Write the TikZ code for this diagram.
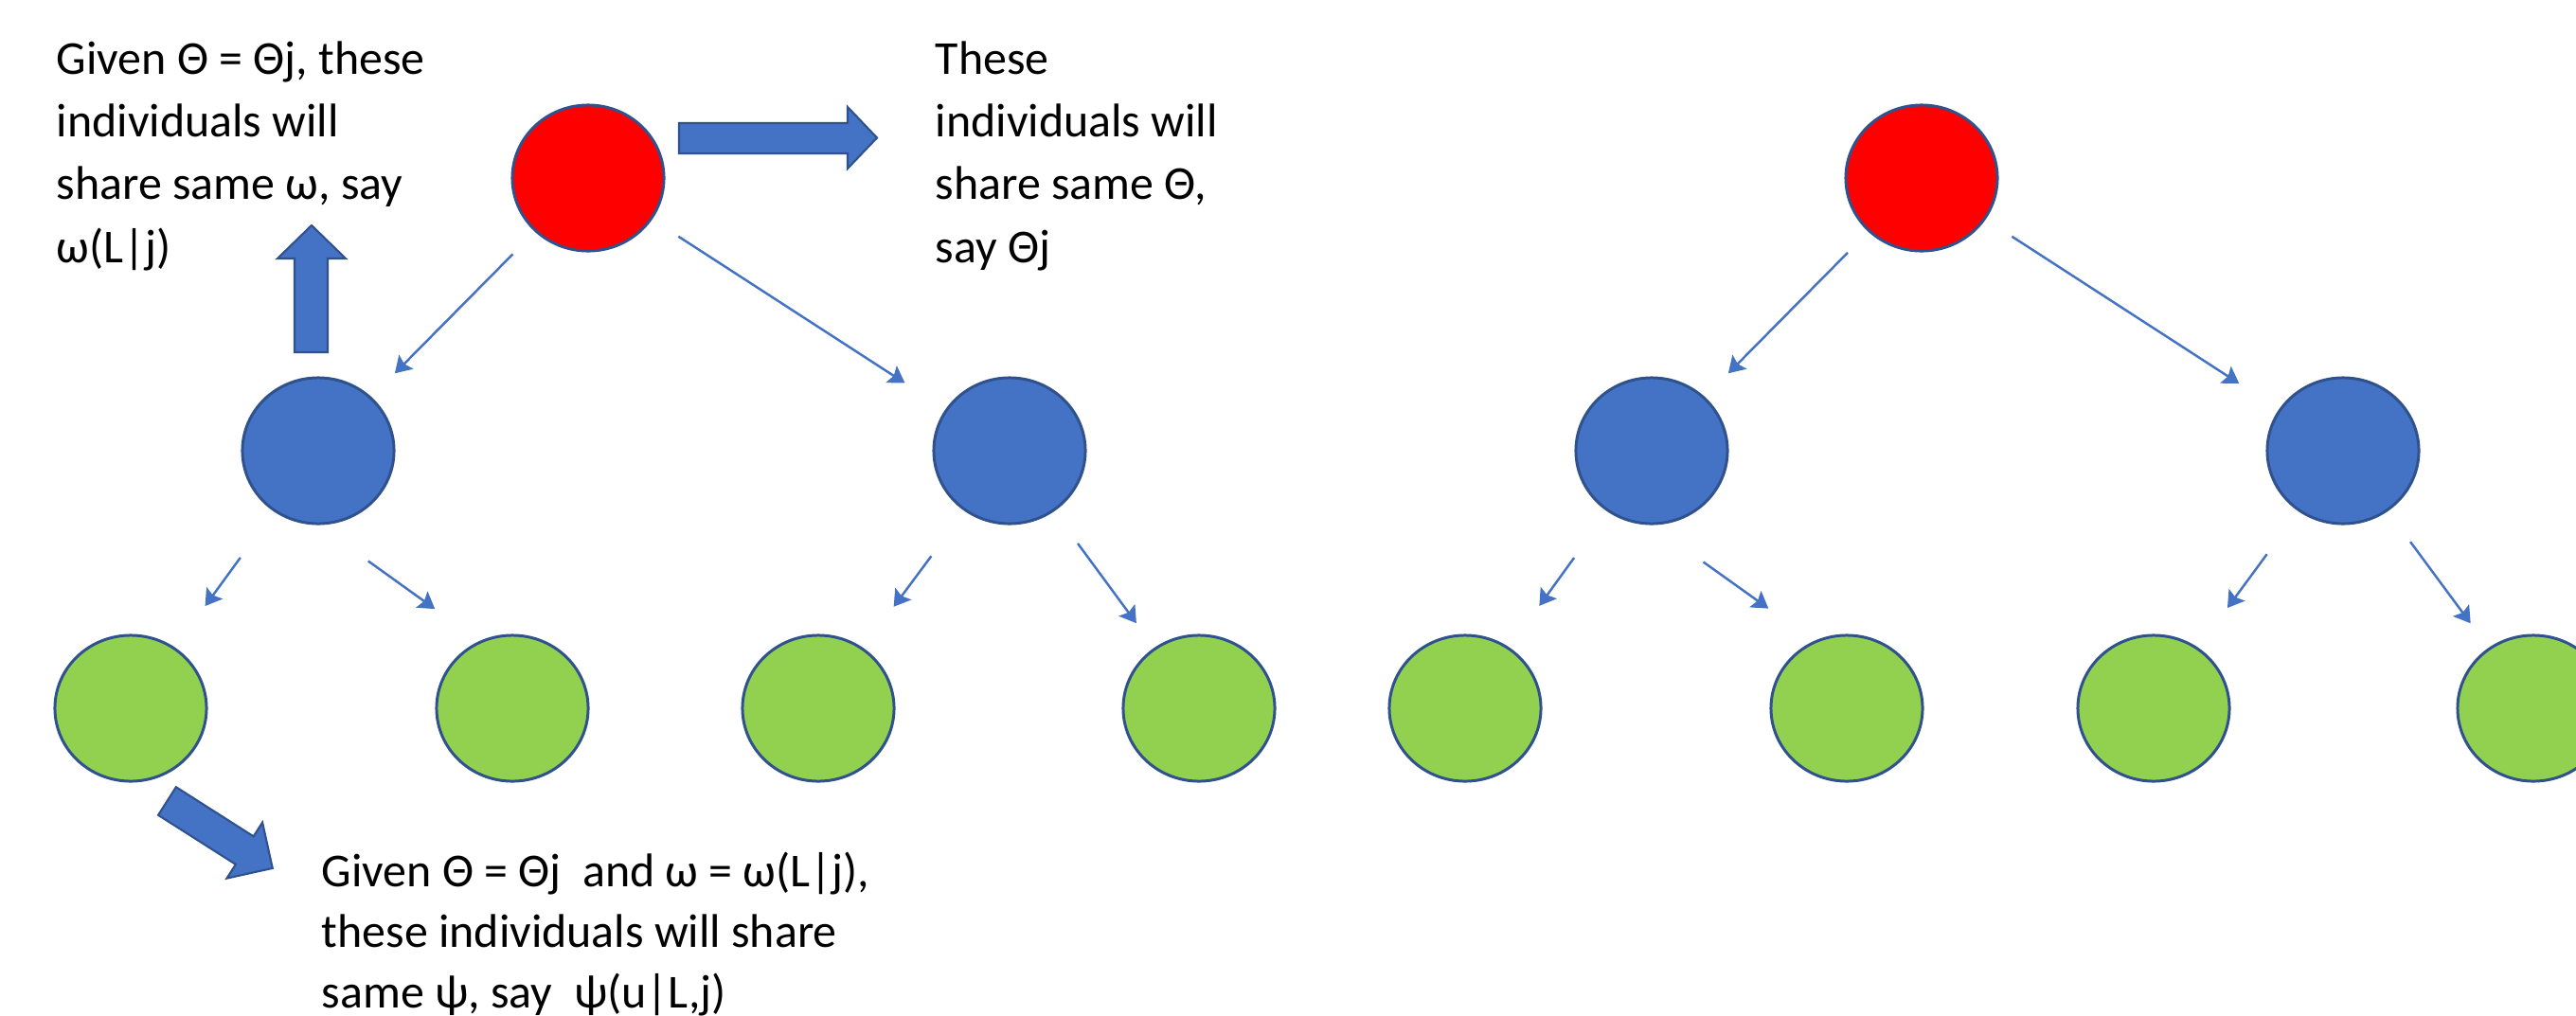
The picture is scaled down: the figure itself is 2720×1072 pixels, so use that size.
\documentclass[tikz,border=0pt]{standalone}
\usepackage{fontspec}
\setmainfont{Carlito}
\usetikzlibrary{arrows.meta}
\usetikzlibrary{shapes.geometric}

\definecolor{nodered}{HTML}{FF0000}
\definecolor{nodeblue}{HTML}{4472C4}
\definecolor{nodegreen}{HTML}{92D050}
\definecolor{rimblue}{HTML}{2F528F}

\begin{document}
\begin{tikzpicture}[x=0.01cm,y=-0.01cm,
 indiv/.style={ellipse,draw=rimblue,line width=0.85pt,minimum width=1.6cm,minimum height=1.54cm,inner sep=0pt},
 link/.style={draw=nodeblue,line width=0.7pt,-{Stealth[length=0.17cm,width=0.21cm,inset=0.03cm]}},
 fat/.style={fill=nodeblue,draw=rimblue,line width=0.6pt,line join=miter},
 note/.style={anchor=base west,align=left,inner sep=0pt,font=\fontsize{14.2}{18.8}\selectfont}]
 \useasboundingbox (0,0) rectangle (2720,1072);
 \node[indiv,fill=nodered] (r1) at (621,188) {};
 \node[indiv,fill=nodeblue] (b1) at (336,476) {};
 \node[indiv,fill=nodeblue] (b2) at (1066,476) {};
 \node[indiv,fill=nodegreen] (g1) at (138,748) {};
 \node[indiv,fill=nodegreen] (g2) at (541,748) {};
 \node[indiv,fill=nodegreen] (g3) at (864,748) {};
 \node[indiv,fill=nodegreen] (g4) at (1266,748) {};
 \node[indiv,fill=nodered] (r2) at (2029,188) {};
 \node[indiv,fill=nodeblue] (b3) at (1744,476) {};
 \node[indiv,fill=nodeblue] (b4) at (2474,476) {};
 \node[indiv,fill=nodegreen] (g5) at (1547,748) {};
 \node[indiv,fill=nodegreen] (g6) at (1950,748) {};
 \node[indiv,fill=nodegreen] (g7) at (2274,748) {};
 \node[indiv,fill=nodegreen] (g8) at (2675,748) {};
 \draw[link,shorten <=0.33cm,shorten >=0.35cm] (r1) -- (b1);
 \draw[link,shorten <=0.33cm,shorten >=0.51cm] (r1) -- (b2);
 \draw[link,shorten <=0.60cm,shorten >=0.54cm] (b1) -- (g1);
 \draw[link,shorten <=0.65cm,shorten >=0.58cm] (b1.south) -- (g2.116);
 \draw[link,shorten <=0.59cm,shorten >=0.54cm] (b2) -- (g3);
 \draw[link,shorten <=0.42cm,shorten >=0.32cm] (b2) -- (g4);
 \draw[link,shorten <=0.31cm,shorten >=0.35cm] (r2) -- (b3);
 \draw[link,shorten <=0.33cm,shorten >=0.50cm] (r2) -- (b4);
 \draw[link,shorten <=0.60cm,shorten >=0.54cm] (b3) -- (g5);
 \draw[link,shorten <=0.67cm,shorten >=0.59cm] (b3.south) -- (g6.116);
 \draw[link,shorten <=0.56cm,shorten >=0.52cm] (b4) -- (g7);
 \draw[link,shorten <=0.40cm,shorten >=0.32cm] (b4) -- (g8);
 % block arrows
 \draw[fat] (717,130) -- (895,130) -- (895,113) -- (926,145.5) -- (895,178) -- (895,162) -- (717,162) -- cycle;
 \draw[fat] (311,372) -- (311,273) -- (293,273) -- (329,238) -- (365,273) -- (346,273) -- (346,372) -- cycle;
 \draw[fat] (185.9,831.2) -- (267.7,883.3) -- (277.1,868.6) -- (287.8,916.9) -- (239.5,927.6) -- (248.9,912.9) -- (167.1,860.8) -- cycle;
 % texts, placed by their last line
 \node[note] (omeganote) at (59,277) {Given Θ = Θj, these\\individuals will\\share same ω, say\\ω(L|j)};
 \node[note] (thetanote) at (987,277) {These\\individuals will\\share same Θ,\\say Θj};
 \node[note,font=\fontsize{14.2}{18.2}\selectfont] (psinote) at (339,1064) {Given Θ = Θj\ \ and ω = ω(L|j),\\these individuals will share\\same ψ, say\ \ ψ(u|L,j)};
\end{tikzpicture}
\end{document}
